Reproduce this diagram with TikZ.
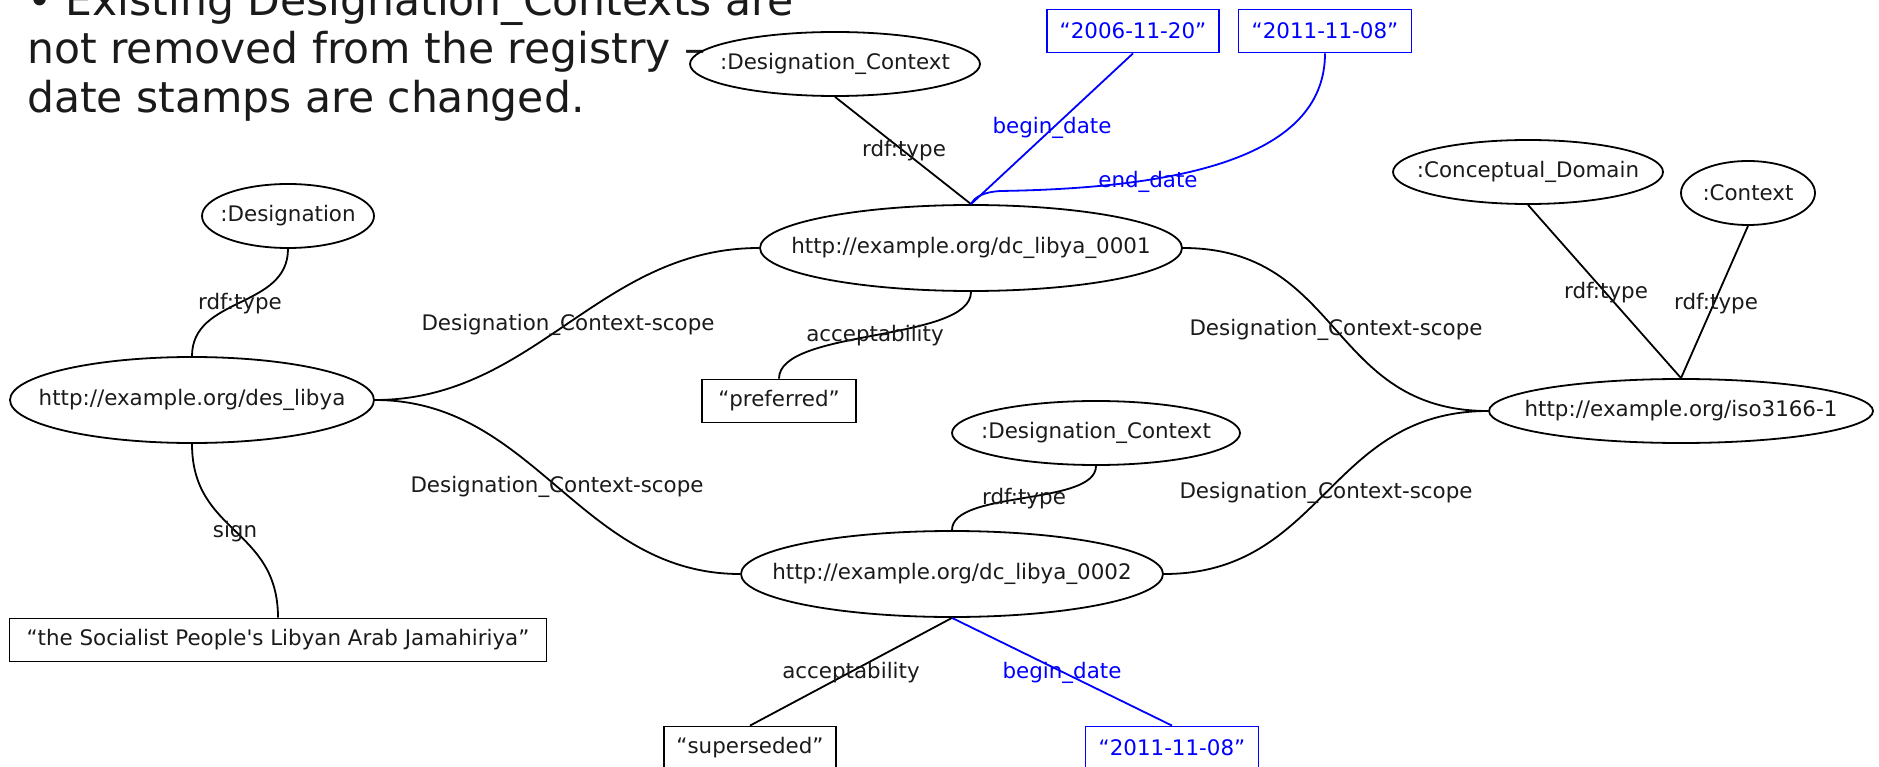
\documentclass[tikz,border=0pt]{standalone}
\usepackage{fontspec}
\setmainfont{DejaVu Sans}[Ligatures=TeXOff]
\usetikzlibrary{shapes.geometric}
\definecolor{ink}{RGB}{26,26,26}
\definecolor{dblue}{RGB}{0,0,255}
\begin{document}
\begin{tikzpicture}[x=1pt,y=-1pt,
  every node/.style={font=\fontsize{21.4}{25}\selectfont, text=ink},
  ell/.style={ellipse, draw=black, line width=1.8pt, inner sep=0pt,
    execute at begin node={\hbox to 0pt\bgroup\hss},
    execute at end node={\hss\egroup}},
  box/.style={rectangle, draw=black, line width=1.8pt, inner sep=0pt, minimum height=43pt},
  bbox/.style={box, draw=dblue, text=dblue},
  lab/.style={inner sep=0pt},
  blab/.style={lab, text=dblue},
  edge/.style={draw=black, line width=1.8pt},
  bedge/.style={draw=dblue, line width=1.8pt},
  titletext/.style={font=\fontsize{42.5}{46.5}\selectfont, anchor=base west, inner sep=0pt}]
\useasboundingbox (0,0) rectangle (1879,767);
% title
\node[titletext] (t1) at (27,15.5) {• Existing Designation\_Contexts are};
\node[titletext] (t2) at (27,64) {not removed from the registry –};
\node[titletext] (t3) at (27,112.5) {date stamps are changed.};
% nodes
\node[ell, minimum width=290pt, minimum height=64pt] (dctop) at (835,64) {:Designation\_Context};
\node[bbox, minimum width=172pt] (d2006) at (1133,31) {“2006-11-20”};
\node[bbox, minimum width=173pt] (d2011a) at (1325,31) {“2011-11-08”};
\node[ell, minimum width=172pt, minimum height=64pt] (desig) at (288,216) {:Designation};
\node[ell, minimum width=422pt, minimum height=86pt] (dc1) at (971,248) {http://example.org/dc\_libya\_0001};
\node[ell, minimum width=270pt, minimum height=64pt] (cdom) at (1528,172) {:Conceptual\_Domain};
\node[ell, minimum width=134pt, minimum height=64pt] (ctx) at (1748,193) {:Context};
\node[ell, minimum width=364pt, minimum height=86pt] (des) at (192,400) {http://example.org/des\_libya};
\node[box, minimum width=154pt] (pref) at (779,401) {“preferred”};
\node[ell, minimum width=384pt, minimum height=64pt] (iso) at (1681,411) {http://example.org/iso3166-1};
\node[ell, minimum width=288pt, minimum height=64pt] (dcmid) at (1096,433) {:Designation\_Context};
\node[ell, minimum width=422pt, minimum height=86pt] (dc2) at (952,574) {http://example.org/dc\_libya\_0002};
\node[box, minimum width=537pt] (soc) at (278,640) {“the Socialist People's Libyan Arab Jamahiriya”};
\node[box, minimum width=172pt] (sup) at (750,748) {“superseded”};
\node[bbox, minimum width=173pt] (d2011b) at (1172,748) {“2011-11-08”};
% edges
\coordinate (ebend) at (1000,191);
\draw[edge] (dctop.south) -- (dc1.north);
\draw[bedge] (d2006.south) -- (dc1.north);
\draw[bedge] (d2011a.south) .. controls +(0,97) and +(200,-3) .. (ebend) .. controls +(-15,1) and +(4,-8) .. (dc1.north);
\draw[edge] (desig.south) .. controls +(0,60) and +(0,-60) .. (des.north);
\draw[edge] (des.east) .. controls +(160,0) and +(-160,0) .. (dc1.west);
\draw[edge] (des.east) .. controls +(160,0) and +(-160,0) .. (dc2.west);
\draw[edge] (dc1.south) .. controls +(0,50) and +(0,-50) .. (pref.north);
\draw[edge] (dc1.east) .. controls +(160,0) and +(-160,0) .. (iso.west);
\draw[edge] (dc2.east) .. controls +(160,0) and +(-160,0) .. (iso.west);
\draw[edge] (cdom.south) -- (iso.north);
\draw[edge] (ctx.south) -- (iso.north);
\draw[edge] (dcmid.south) .. controls +(0,40) and +(0,-40) .. (dc2.north);
\draw[edge] (des.south) .. controls +(0,90) and +(0,-90) .. (soc.north);
\draw[edge] (dc2.south) -- (sup.north);
\draw[bedge] (dc2.south) -- (d2011b.north);
% labels
\node[lab] (l1) at (904,151) {rdf:type};
\node[blab] (l2) at (1052,128) {begin\_date};
\node[blab] (l3) at (1148,182) {end\_date};
\node[lab] (l4) at (240,304) {rdf:type};
\node[lab] (l5) at (568,325) {Designation\_Context-scope};
\node[lab] (l6) at (875,336) {acceptability};
\node[lab] (l7) at (1336,330) {Designation\_Context-scope};
\node[lab] (l8) at (1606,293) {rdf:type};
\node[lab] (l9) at (1716,304) {rdf:type};
\node[lab] (l10) at (557,487) {Designation\_Context-scope};
\node[lab] (l11) at (1024,499) {rdf:type};
\node[lab] (l12) at (1326,493) {Designation\_Context-scope};
\node[lab] (l13) at (235,532) {sign};
\node[lab] (l14) at (851,673) {acceptability};
\node[blab] (l15) at (1062,673) {begin\_date};
\end{tikzpicture}
\end{document}
